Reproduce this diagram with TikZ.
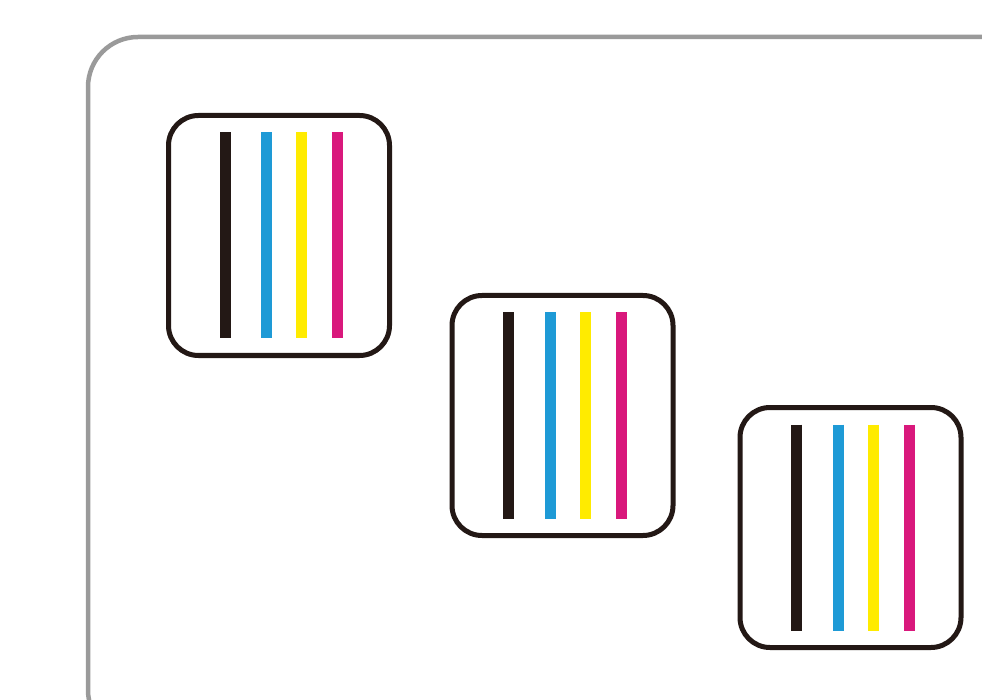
\documentclass[tikz,border=0pt]{standalone}
\usetikzlibrary{calc}
\definecolor{frameGray}{HTML}{9A9A9A}
\definecolor{inkK}{HTML}{231815}
\definecolor{inkC}{HTML}{1E9AD6}
\definecolor{inkY}{HTML}{FFEB00}
\definecolor{inkM}{HTML}{D9187C}
\tikzset{
  frame/.style={draw=frameGray, line width=4.5pt, rounded corners=50pt},
  nozzlebox/.style={draw=inkK, line width=5pt, rounded corners=30pt, minimum width=221pt, minimum height=240pt, inner sep=0pt, fill=white},
  bar/.style={line width=11pt}
}
\begin{document}
\begin{tikzpicture}[x=1pt,y=-1pt]
\useasboundingbox (0,0) rectangle (982,700);
\clip (0,0) rectangle (982,700);
\fill[white] (0,0) rectangle (982,700);
\draw[frame] (88,37) rectangle (1060,740);
\foreach \n/\cx/\cy in {b1/279/235.5, b2/562.5/415.5, b3/850.5/527.5}{
  \node[nozzlebox] (\n) at (\cx,\cy) {};
  \foreach \dx/\col in {-54/inkK, -12.5/inkC, 22.5/inkY, 58.5/inkM}{
    \draw[bar, draw=\col] ($(\n.center)+(\dx,-103)$) -- ($(\n.center)+(\dx,103)$);
  }
}
\end{tikzpicture}
\end{document}
